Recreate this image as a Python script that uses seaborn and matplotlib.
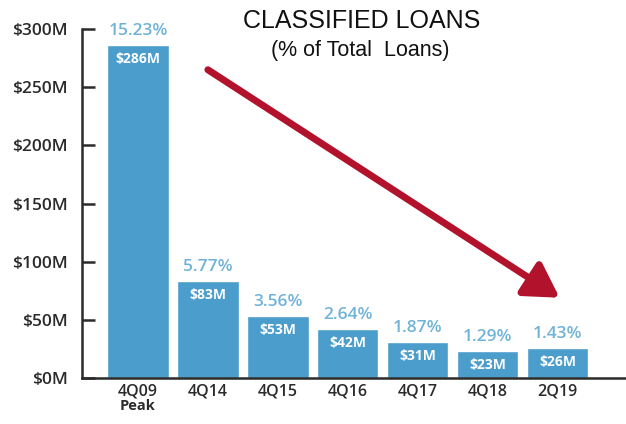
import matplotlib
matplotlib.use("Agg")
import matplotlib.pyplot as plt
import seaborn as sns
import pandas as pd

# Classified loans by period
periods = ["4Q09", "4Q14", "4Q15", "4Q16", "4Q17", "4Q18", "2Q19"]
loans_musd = [286, 83, 53, 42, 31, 23, 26]
pct_of_total = ["15.23%", "5.77%", "3.56%", "2.64%", "1.87%", "1.29%", "1.43%"]
yticks = [0, 50, 100, 150, 200, 250, 300]
ytick_labels = ["$0M", "$50M", "$100M", "$150M", "$200M", "$250M", "$300M"]

df = pd.DataFrame({"period": periods, "loans": loans_musd})

BAR = "#4b9dcc"
PCT = "#70b3d8"
INK = "#2b2b2b"

sns.set_theme(style="ticks", rc={
    "axes.edgecolor": INK,
    "axes.linewidth": 1.8,
    "ytick.direction": "in",
    "ytick.major.size": 9,
    "ytick.major.width": 1.8,
    "ytick.color": INK,
    "ytick.labelcolor": INK,
    "ytick.labelsize": 12.5,
    "ytick.major.pad": 10,
    "xtick.major.size": 0,
    "xtick.labelcolor": INK,
    "xtick.labelsize": 11.5,
    "xtick.major.pad": 4,
    "font.weight": "semibold",
})
plt.rcParams["font.family"] = ["Open Sans", "DejaVu Sans"]

fig = plt.figure(figsize=(6.26, 4.24), dpi=100)
ax = fig.add_axes([0.131, 0.1085, 0.869, 0.823])

sns.barplot(data=df, x="period", y="loans", color=BAR, saturation=1,
            width=0.88, ax=ax)

ax.set_ylim(0, 300)
ax.set_xlim(-0.8, 6.98)
ax.set_yticks(yticks)
ax.set_yticklabels(ytick_labels)
for side in ["top", "right"]:
    ax.spines[side].set_visible(False)
ax.tick_params(axis="y", which="major", left=True, direction="in",
               length=9, width=1.8, color=INK, labelsize=12.5, pad=10)
ax.set_xlabel("")
ax.set_ylabel("")

# value labels: share of total above, dollar amount inside
for i, (v, p) in enumerate(zip(loans_musd, pct_of_total)):
    ax.text(i, v + 12, p, ha="center", va="center", fontsize=12.5,
            color=PCT, fontweight="semibold")
    ax.text(i, v - 12, f"${v}M", ha="center", va="center", fontsize=10,
            color="white", fontweight="bold")

# "Peak" under the first category
ax.annotate("Peak", xy=(0, 0), xytext=(0, -20), textcoords="offset points",
            ha="center", va="center", fontsize=10.5, fontweight="bold",
            color=INK, annotation_clip=False)

# downward trend arrow
ax.annotate("", xy=(6.03, 69), xytext=(1.0, 265),
            arrowprops=dict(arrowstyle="-|>,head_length=1.7,head_width=1.0",
                            color="#b3122d", lw=5, shrinkA=0, shrinkB=0))

fig.text(0.577, 0.950, "CLASSIFIED LOANS", ha="center", va="center",
         fontsize=18, family="Liberation Sans", fontweight="normal",
         color="#111111")
fig.text(0.575, 0.882, "(% of Total  Loans)", ha="center", va="center",
         fontsize=15.5, family="Liberation Sans", fontweight="normal",
         color="#111111")

fig.savefig("out.png", dpi=100, facecolor="white")
